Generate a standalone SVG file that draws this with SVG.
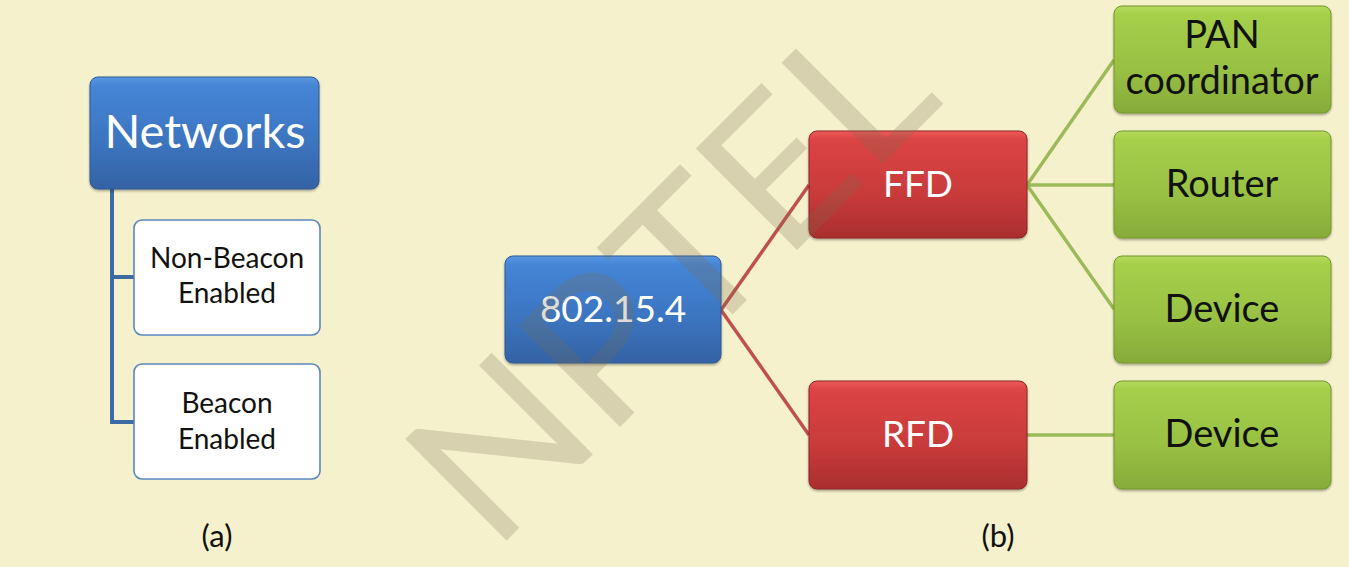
<svg xmlns="http://www.w3.org/2000/svg" width="1349" height="567" viewBox="0 0 1349 567">
  <defs>
    <linearGradient id="gBlue" x1="0" y1="0" x2="0" y2="1">
      <stop offset="0" stop-color="#5a97e0"/>
      <stop offset="0.08" stop-color="#4585d6"/>
      <stop offset="0.6" stop-color="#3b74bf"/>
      <stop offset="1" stop-color="#3462a4"/>
    </linearGradient>
    <linearGradient id="gRed" x1="0" y1="0" x2="0" y2="1">
      <stop offset="0" stop-color="#ec5a5a"/>
      <stop offset="0.08" stop-color="#dc4444"/>
      <stop offset="0.6" stop-color="#c83a3a"/>
      <stop offset="1" stop-color="#aa2e2e"/>
    </linearGradient>
    <linearGradient id="gGreen" x1="0" y1="0" x2="0" y2="1">
      <stop offset="0" stop-color="#b4da5c"/>
      <stop offset="0.08" stop-color="#a6cf4a"/>
      <stop offset="0.6" stop-color="#98c043"/>
      <stop offset="1" stop-color="#87ab3a"/>
    </linearGradient>
    <filter id="sh" x="-10%" y="-10%" width="120%" height="130%">
      <feDropShadow dx="0" dy="1.5" stdDeviation="1.2" flood-color="#000" flood-opacity="0.35"/>
    </filter>
  </defs>
  <style>
    .lbl { font-family: Lato, "Liberation Sans", sans-serif; text-anchor: middle; }
    .w { fill: #ffffff; }
    .k { fill: #111111; }
    .blue { fill: url(#gBlue); stroke: #2f5a92; stroke-width: 1; filter: url(#sh); }
    .red { fill: url(#gRed); stroke: #8e2626; stroke-width: 1; filter: url(#sh); }
    .green { fill: url(#gGreen); stroke: #76962f; stroke-width: 1; filter: url(#sh); }
    .white { fill: #ffffff; stroke: #5b87c0; stroke-width: 1.6; }
    .cb { stroke: #3d6aa2; stroke-width: 4; fill: none; }
    .cr { stroke: #c0504d; stroke-width: 3.5; fill: none; }
    .cg { stroke: #9bbb59; stroke-width: 3.5; fill: none; }
  </style>
  <rect x="0" y="0" width="1349" height="567" fill="#f5f1cd"/>

  <g id="connectors">
    <polyline class="cb" points="112,189 112,422 134,422"/>
    <line class="cb" x1="112" y1="277" x2="134" y2="277"/>
    <line class="cr" x1="721" y1="310" x2="809" y2="185"/>
    <line class="cr" x1="721" y1="310" x2="809" y2="435"/>
    <line class="cg" x1="1027" y1="185" x2="1114" y2="60"/>
    <line class="cg" x1="1027" y1="185" x2="1114" y2="185"/>
    <line class="cg" x1="1027" y1="185" x2="1114" y2="309"/>
    <line class="cg" x1="1027" y1="435" x2="1114" y2="435"/>
  </g>

  <g id="networks">
    <rect class="blue" x="90" y="77" width="229" height="112" rx="8"/>
    <text class="lbl w" x="205" y="148" font-size="47">Networks</text>
  </g>
  <g id="non-beacon">
    <rect class="white" x="134" y="220" width="186" height="115" rx="8"/>
    <text class="lbl k" x="227" y="268" font-size="28">Non-Beacon</text>
    <text class="lbl k" x="227" y="303" font-size="28">Enabled</text>
  </g>
  <g id="beacon">
    <rect class="white" x="134" y="364" width="186" height="115" rx="8"/>
    <text class="lbl k" x="227" y="413" font-size="28">Beacon</text>
    <text class="lbl k" x="227" y="449" font-size="28">Enabled</text>
  </g>

  <g id="n802">
    <rect class="blue" x="505" y="256" width="216" height="107" rx="8"/>
    <text class="lbl w" x="613" y="322" font-size="37">802.15.4</text>
  </g>
  <g id="ffd">
    <rect class="red" x="809" y="131" width="218" height="107" rx="8"/>
    <text class="lbl w" x="918" y="197" font-size="37">FFD</text>
  </g>
  <g id="rfd">
    <rect class="red" x="809" y="381" width="218" height="108" rx="8"/>
    <text class="lbl w" x="918" y="447" font-size="37">RFD</text>
  </g>

  <g id="pan">
    <rect class="green" x="1114" y="6" width="217" height="107" rx="8"/>
    <text class="lbl k" x="1222" y="48" font-size="38">PAN</text>
    <text class="lbl k" x="1222" y="94" font-size="38">coordinator</text>
  </g>
  <g id="router">
    <rect class="green" x="1114" y="131" width="217" height="107" rx="8"/>
    <text class="lbl k" x="1222" y="197" font-size="38">Router</text>
  </g>
  <g id="device1">
    <rect class="green" x="1114" y="256" width="217" height="107" rx="8"/>
    <text class="lbl k" x="1222" y="322" font-size="38">Device</text>
  </g>
  <g id="device2">
    <rect class="green" x="1114" y="381" width="217" height="108" rx="8"/>
    <text class="lbl k" x="1222" y="447" font-size="38">Device</text>
  </g>

  <text class="lbl k" x="217" y="547" font-size="31">(a)</text>
  <text class="lbl k" x="998" y="547" font-size="31">(b)</text>

  <text id="watermark" x="493" y="554" transform="rotate(-45 493 554)" font-family="Lato, 'Liberation Sans', sans-serif" font-size="200" fill="#786e50" fill-opacity="0.24" textLength="640" lengthAdjust="spacingAndGlyphs">NPTEL</text>
</svg>
